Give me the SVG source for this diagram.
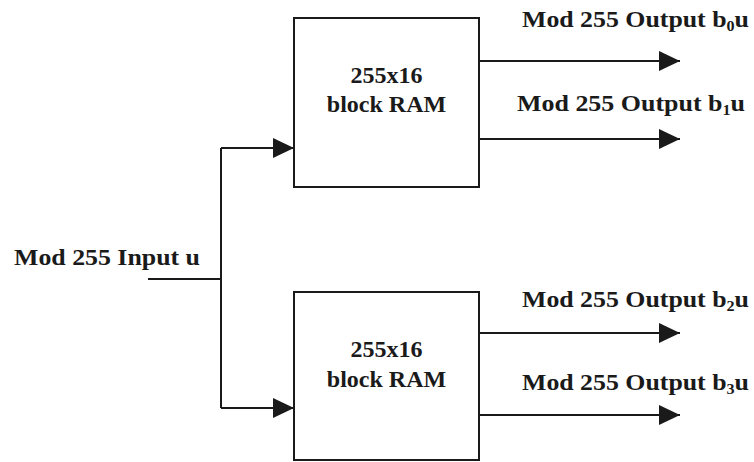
<svg xmlns="http://www.w3.org/2000/svg" width="754" height="462" viewBox="0 0 754 462">
<style>
.box{fill:#fff;stroke:#1a1a1a;stroke-width:2}
.ln{fill:none;stroke:#1a1a1a;stroke-width:2}
text{font-family:"Liberation Serif","Times New Roman",serif;font-weight:bold;font-size:24px;fill:#1a1a1a}
.c{text-anchor:middle}
.sub{font-size:15px}
</style>
<defs>
<marker id="ah" markerUnits="userSpaceOnUse" markerWidth="22" markerHeight="22" refX="21" refY="11" orient="auto" viewBox="0 0 22 22">
<path d="M0,1 L21,11 L0,21 Z" fill="#1a1a1a"/>
</marker>
</defs>
<rect width="754" height="462" fill="#fff"/>
<g id="connectors">
<path class="ln" d="M148,279 H221"/>
<path class="ln" d="M221,148 V408"/>
<path class="ln" d="M221,148 H294" marker-end="url(#ah)"/>
<path class="ln" d="M221,408 H294" marker-end="url(#ah)"/>
<path class="ln" d="M479,61 H680" marker-end="url(#ah)"/>
<path class="ln" d="M479,139 H680" marker-end="url(#ah)"/>
<path class="ln" d="M479,333 H680" marker-end="url(#ah)"/>
<path class="ln" d="M479,415 H680" marker-end="url(#ah)"/>
</g>
<g id="ram-top">
<rect class="box" x="294" y="18" width="185" height="169"/>
<text class="c" x="386.5" y="83">255x16</text>
<text class="c" x="386.5" y="112">block RAM</text>
</g>
<g id="ram-bottom">
<rect class="box" x="294" y="292" width="185" height="168"/>
<text class="c" x="386.5" y="357">255x16</text>
<text class="c" x="386.5" y="387">block RAM</text>
</g>
<g id="labels">
<text x="14" y="265" textLength="186" lengthAdjust="spacingAndGlyphs">Mod 255 Input u</text>
<text x="522" y="27" textLength="227" lengthAdjust="spacingAndGlyphs">Mod 255 Output b<tspan class="sub" dy="4">0</tspan><tspan dy="-4">u</tspan></text>
<text x="517" y="111" textLength="228" lengthAdjust="spacingAndGlyphs">Mod 255 Output b<tspan class="sub" dy="4">1</tspan><tspan dy="-4">u</tspan></text>
<text x="522" y="307" textLength="227" lengthAdjust="spacingAndGlyphs">Mod 255 Output b<tspan class="sub" dy="4">2</tspan><tspan dy="-4">u</tspan></text>
<text x="522" y="390" textLength="227" lengthAdjust="spacingAndGlyphs">Mod 255 Output b<tspan class="sub" dy="4">3</tspan><tspan dy="-4">u</tspan></text>
</g>
</svg>
